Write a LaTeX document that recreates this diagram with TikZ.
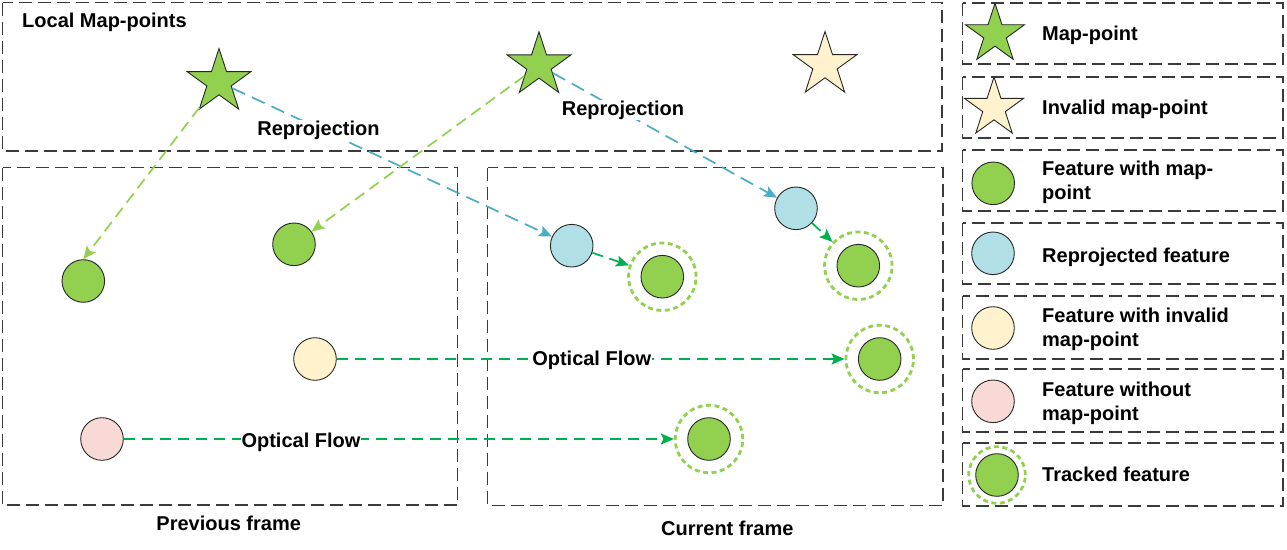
\documentclass[tikz,border=0pt]{standalone}
\usepackage{fontspec}
\setmainfont{Liberation Sans}
\usetikzlibrary{shapes.geometric,arrows.meta}
\definecolor{lgreen}{HTML}{92D050}
\definecolor{dgreen}{HTML}{00B050}
\definecolor{bline}{HTML}{4BACC6}
\definecolor{bfill}{HTML}{B0E0E6}
\definecolor{yfill}{HTML}{FFF2CC}
\definecolor{pfill}{HTML}{F9D9D6}
\definecolor{framec}{HTML}{3A3A3A}
\begin{document}
\begin{tikzpicture}[x=1pt,y=-1pt,
  every node/.style={font=\fontsize{20}{24}\selectfont\bfseries},
  frame/.style={draw=framec,line width=1.2pt,dash pattern=on 13pt off 6pt},
  feat/.style={circle,draw=black!85,line width=0.9pt,minimum size=42.6pt,inner sep=0pt},
  gfeat/.style={feat,fill=lgreen},
  bfeat/.style={feat,fill=bfill},
  yfeat/.style={feat,fill=yfill},
  pfeat/.style={feat,fill=pfill},
  ring/.style={circle,draw=lgreen,line width=2.8pt,dash pattern=on 5pt off 3.5pt,minimum size=67.5pt,inner sep=0pt},
  starbase/.style={star,star points=5,star point ratio=2.618,draw=black!85,line width=0.9pt,inner sep=0pt,minimum size=67pt},
  mstar/.style={starbase,fill=lgreen},
  istar/.style={starbase,fill=yfill},
  conn/.style={line width=1.7pt,dash pattern=on 11.5pt off 6.5pt,-{Stealth[length=13pt,width=11pt,inset=2.5pt]}},
  reproj/.style={conn,draw=bline,dash pattern=on 14pt off 7.5pt},
  assoc/.style={conn,draw=lgreen},
  flow/.style={conn,draw=dgreen},
  lbl/.style={fill=white,inner sep=1pt,anchor=base},
  ltext/.style={anchor=base west,inner sep=0pt},
  ltext2/.style={anchor=west,inner sep=0pt,align=left}
]
\useasboundingbox (0,0) rectangle (1287,549);

% frames
\draw[frame] (2.5,2.5) rectangle (942,151);
\draw[frame] (2.5,167.5) rectangle (457.5,505);
\draw[frame] (487.5,167.5) rectangle (943,505.5);
\node[anchor=base west,inner sep=0pt] (title) at (22,27.5) {Local Map-points};
\node[lbl] (prevlbl) at (228.7,530) {Previous frame};
\node[lbl] (curlbl) at (727.3,535) {Current frame};

% legend boxes
\foreach \ya/\yb in {3/64,77/138,150/211,223/284,296/359,369/432,443/506}
  \draw[frame] (962.5,\ya) rectangle (1283,\yb);

% map-points
\node[mstar] (sA) at (219,82) {};
\node[mstar] (sB) at (539,65.3) {};
\node[istar] (sC) at (825,65) {};

% features
\node[gfeat] (g1) at (83.3,281) {};
\node[gfeat] (g2) at (294,244.3) {};
\node[yfeat] (y1) at (315,359) {};
\node[pfeat] (p1) at (102,439) {};
\node[bfeat] (b1) at (571.7,245.7) {};
\node[bfeat] (b2) at (796,208.3) {};
\node[ring] (t1) at (662.3,276.7) {};
\node[gfeat] (t1c) at (t1) {};
\node[ring] (t2) at (858.3,265.7) {};
\node[gfeat] (t2c) at (t2) {};
\node[ring] (t3) at (879.7,359) {};
\node[gfeat] (t3c) at (t3) {};
\node[ring] (t4) at (709,439) {};
\node[gfeat] (t4c) at (t4) {};

% connectors
\draw[reproj] (sA) -- (b1);
\draw[reproj] (sB) -- (b2);
\draw[assoc] (sA) -- (g1.north);
\draw[assoc] (sB) -- (g2);
\draw[flow] (b1) -- (t1);
\draw[flow] (b2) -- (t2);
\draw[flow] (y1) -- (t3);
\draw[flow] (p1) -- (t4);

% connector labels
\node[lbl] (r1) at (318.5,135) {Reprojection};
\node[lbl] (r2) at (623,115) {Reprojection};
\node[lbl] (o1) at (301,447.3) {Optical Flow};
\node[lbl] (o2) at (591.7,365.7) {Optical Flow};

% legend icons
\node[mstar,minimum size=62pt] (lk1) at (995,34.3) {};
\node[istar,minimum size=62pt] (lk2) at (994,108) {};
\node[gfeat] (lk3) at (993.2,183.3) {};
\node[bfeat] (lk4) at (993,253.3) {};
\node[yfeat] (lk5) at (993,328) {};
\node[pfeat] (lk6) at (993,401.3) {};
\node[ring,minimum size=56.6pt] (lk7) at (997,475) {};
\node[gfeat] (lk7c) at (lk7) {};

% legend texts
\node[ltext] (lt1) at (1042,40.7) {Map-point};
\node[ltext] (lt2) at (1042,114) {Invalid map-point};
\node[ltext2] (lt3) at (1042,182.5) {Feature with map-\\point};
\node[ltext] (lt4) at (1042,262.3) {Reprojected feature};
\node[ltext2] (lt5) at (1042,329.5) {Feature with invalid\\map-point};
\node[ltext2] (lt6) at (1042,403.2) {Feature without\\map-point};
\node[ltext] (lt7) at (1042,481) {Tracked feature};
\end{tikzpicture}
\end{document}
